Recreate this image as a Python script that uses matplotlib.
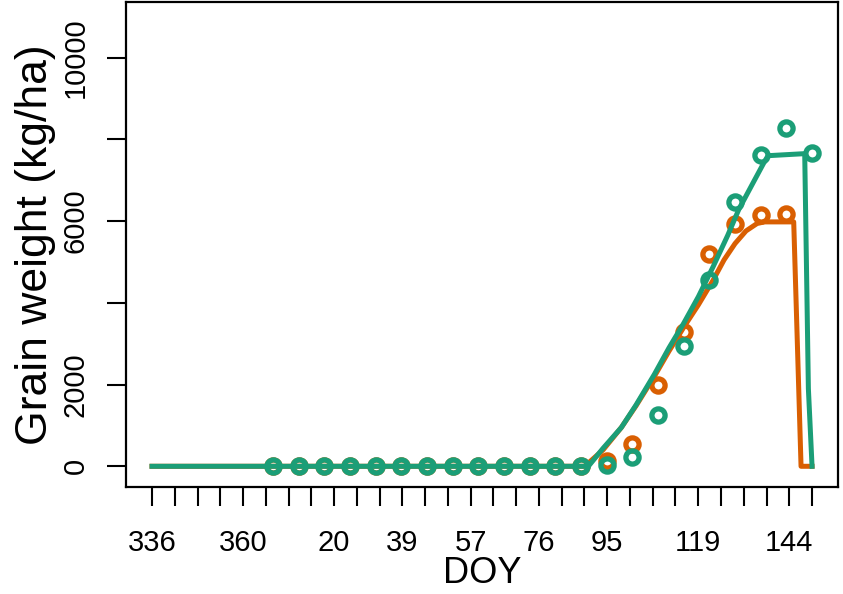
import numpy as np
import matplotlib
matplotlib.use("Agg")
import matplotlib.pyplot as plt

plt.rcParams['font.family'] = ['Liberation Sans', 'DejaVu Sans']

# continuous day number (days after Jan 1 of the sowing year)
sim_days_a = [336, 454, 459, 464, 468, 473, 477, 481, 485, 489, 492, 495, 498, 501, 503, 511, 513, 516]
sim_grain_a = [0, 0, 400, 950, 1480, 2200, 2820, 3400, 3950, 4550, 5050, 5450, 5760, 5940, 5980, 5980, 0, 0]

sim_days_b = [336, 455, 459, 464, 468, 473, 477, 481, 485, 489, 493, 496, 500, 503, 504, 514, 515, 516]
sim_grain_b = [0, 0, 440, 950, 1500, 2250, 2900, 3500, 4150, 4880, 5650, 6280, 6950, 7450, 7600, 7650, 1900, 0]

obs_days = [369, 376, 383, 390, 397, 404, 411, 418, 425, 432, 439, 446, 453,
            460, 467, 474, 481, 488, 495, 502, 509, 516]
obs_grain_a = [0, 0, 0, 0, 0, 0, 0, 0, 0, 0, 0, 0, 0,
               130, 540, 2000, 3290, 5195, 5925, 6145, 6170]
obs_grain_b = [0, 0, 0, 0, 0, 0, 0, 0, 0, 0, 0, 0, 0,
               40, 220, 1260, 2950, 4550, 6470, 7610, 8280, 7670]

x_tick_labels = ["336", "", "", "", "360", "", "", "", "20", "", "", "39", "", "", "57",
                 "", "", "76", "", "", "95", "", "", "", "119", "", "", "", "144", ""]
y_ticks = [0, 2000, 4000, 6000, 8000, 10000]
y_tick_labels = ["0", "2000", "", "6000", "", "10000"]

col_a = "#D95F02"
col_b = "#1B9E77"

fig = plt.figure(figsize=(8.43, 5.94), dpi=100)
ax = fig.add_axes([0.149, 0.1806, 0.8456, 0.816])

ax.plot(sim_days_a, sim_grain_a, color=col_a, lw=3.6, solid_joinstyle="round")
ax.plot(obs_days[:len(obs_grain_a)], obs_grain_a, "o", color=col_a, ms=9.5, mew=3.8, mfc="none")
ax.plot(sim_days_b, sim_grain_b, color=col_b, lw=3.6, solid_joinstyle="round")
ax.plot(obs_days, obs_grain_b, "o", color=col_b, ms=9.5, mew=3.8, mfc="none")

x_ticks = np.linspace(336, 516, 30)
ax.set_xticks(x_ticks)
ax.set_xticklabels(x_tick_labels)
ax.set_yticks(y_ticks)
ax.set_yticklabels(y_tick_labels, rotation=90, va="center")
ax.set_xlim(328.8, 523.2)
ax.set_ylim(-500, 11360)

ax.tick_params(axis="both", length=13.7, width=1.5, labelsize=21, direction="out")
ax.tick_params(axis="x", pad=17)
ax.tick_params(axis="y", pad=12)
for s in ax.spines.values():
    s.set_linewidth(1.6)

ax.set_xlabel("DOY", fontsize=26, labelpad=-1)
ax.set_ylabel("Grain weight (kg/ha)", fontsize=32, labelpad=4)

fig.savefig("out.png", dpi=100)
